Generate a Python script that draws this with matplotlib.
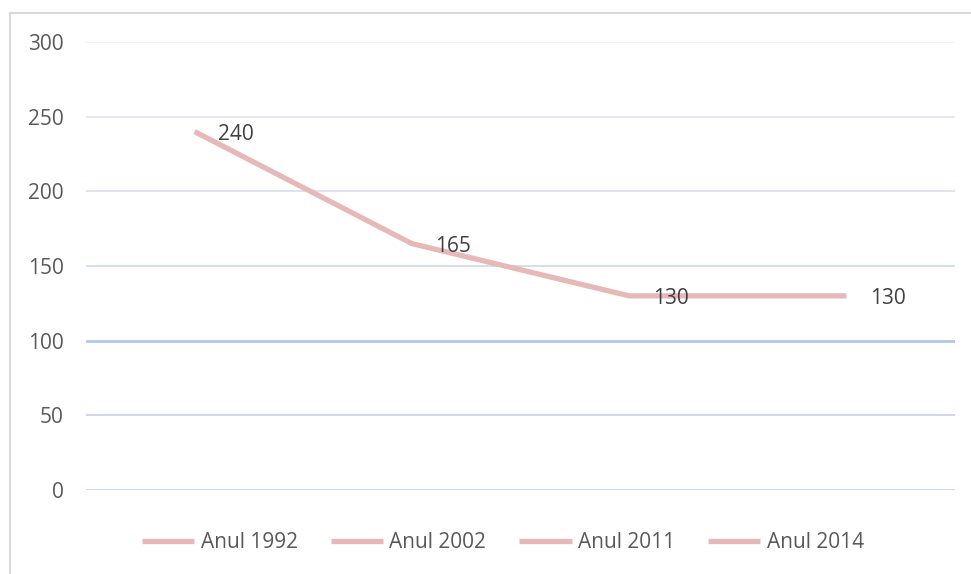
import matplotlib
matplotlib.use('Agg')
import matplotlib.pyplot as plt
from matplotlib.lines import Line2D

####DATA####
years=['Anul 1992','Anul 2002','Anul 2011','Anul 2014']
values=[240,165,130,130]
yticks=[0,50,100,150,200,250,300]
############

plt.rcParams['font.family']=['Open Sans','DejaVu Sans']
W,H=971,574
fig=plt.figure(figsize=(W/100.,H/100.),dpi=100)
ax=fig.add_axes([86/W,1-490/H,869/W,448/H])

# outer chart frame (only left and top visible in the crop)
fig.add_artist(Line2D([10/W,10/W],[0,1-13/H],color='#d9d9d9',lw=1.5))
fig.add_artist(Line2D([10/W,1],[1-13/H,1-13/H],color='#d9d9d9',lw=1.5))

x=list(range(len(values)))
pink='#e6b8b7'
line,=ax.plot(x,values,color=pink,lw=3.8,solid_capstyle='butt',solid_joinstyle='miter',zorder=3)
for xi,v in zip(x,values):
    ax.annotate(str(v),(xi,v),xytext=(17,-2),textcoords='offset points',
                ha='left',va='center',fontsize=15,color='#404040',zorder=4)

# gridlines, Excel style
gcol={0:'#c5d3ea',50:'#c5d3ea',100:'#b4c7e7',150:'#cfdbee',200:'#d9e2f1',250:'#e1e8f4',300:'#eef2f8'}
for t in yticks:
    ax.axhline(t,color=gcol[t],lw=1.3 if t!=100 else 2.0,zorder=1)

ax.set_xlim(-0.5,3.5)
ax.set_ylim(0,300)
ax.set_yticks(yticks)
ax.set_yticklabels([str(t) for t in yticks])
ax.set_xticks([])
for s in ax.spines.values():
    s.set_visible(False)
ax.tick_params(axis='y',length=0,pad=16,labelsize=15,labelcolor='#595959')

fig.legend([line]*4,years,loc='center',bbox_to_anchor=(503/W,1-543/H),ncol=4,frameon=False,
           fontsize=15,labelcolor='#595959',handlelength=2.5,handletextpad=0.3,columnspacing=1.6)

fig.savefig('out.png',dpi=100)
